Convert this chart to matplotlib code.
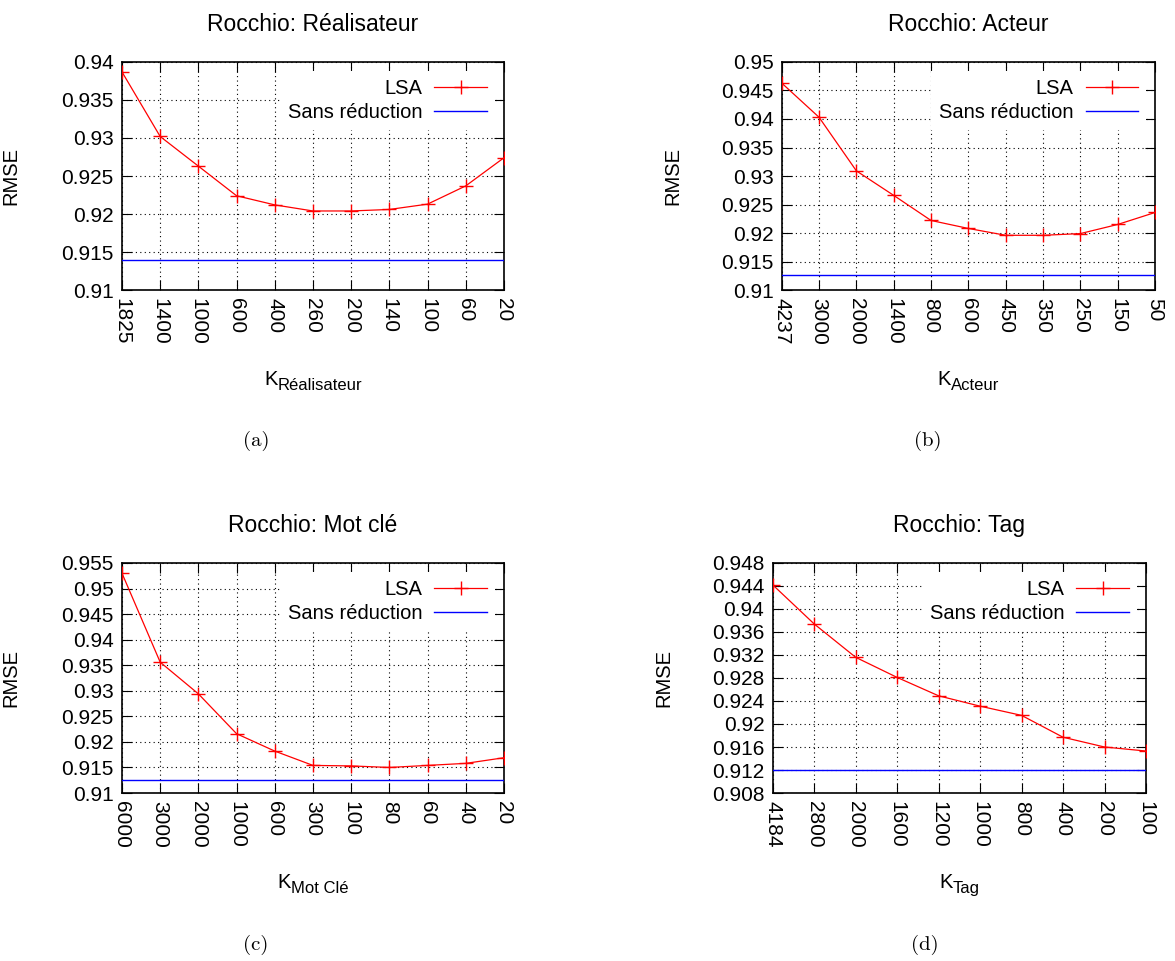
import matplotlib
matplotlib.use("Agg")
import matplotlib.pyplot as plt
import numpy as np
from matplotlib.ticker import FormatStrFormatter
from matplotlib.transforms import ScaledTranslation

plt.rcParams['font.family'] = ['Liberation Sans', 'DejaVu Sans']

# Valeurs
k_real = ['1825', '1400', '1000', '600', '400', '260', '200', '140', '100', '60', '20']
rmse_real = [0.9387, 0.9302, 0.9263, 0.9224, 0.9212, 0.9204, 0.9204, 0.9206, 0.9213, 0.9237, 0.9274]
base_real = 0.9140

k_act = ['4237', '3000', '2000', '1400', '800', '600', '450', '350', '250', '150', '50']
rmse_act = [0.9463, 0.9403, 0.9309, 0.9266, 0.9222, 0.9208, 0.9196, 0.9196, 0.9199, 0.9215, 0.9236]
base_act = 0.9126

k_mot = ['6000', '3000', '2000', '1000', '600', '300', '100', '80', '60', '40', '20']
rmse_mot = [0.9530, 0.9356, 0.9294, 0.9216, 0.9182, 0.9154, 0.9153, 0.9150, 0.9154, 0.9158, 0.9169]
base_mot = 0.9126

k_tag = ['4184', '2800', '2000', '1600', '1200', '1000', '800', '400', '200', '100']
rmse_tag = [0.9442, 0.9374, 0.9316, 0.9281, 0.9249, 0.9231, 0.9215, 0.9177, 0.9160, 0.9153]
base_tag = 0.9120

FS_TICK = 15
FS_LEG = 14.5
FS_TITLE = 16.5

fig = plt.figure(figsize=(11.75, 9.61), dpi=100)

panels = [
    # rect, titre, indice du K, ks, rmse, base, (ymin, ymax, pas), legende, position legende
    ([0.1038, 0.6982, 0.3251, 0.2373], 'Rocchio: Réalisateur', 'Réalisateur',
     k_real, rmse_real, base_real, (0.91, 0.94, 0.005), '(a)', (0.218, 0.541)),
    ([0.6653, 0.6982, 0.3177, 0.2373], 'Rocchio: Acteur', 'Acteur',
     k_act, rmse_act, base_act, (0.91, 0.95, 0.005), '(b)', (0.790, 0.541)),
    ([0.1038, 0.1748, 0.3251, 0.2394], 'Rocchio: Mot clé', 'Mot Clé',
     k_mot, rmse_mot, base_mot, (0.91, 0.955, 0.005), '(c)', (0.218, 0.017)),
    ([0.6576, 0.1748, 0.3177, 0.2394], 'Rocchio: Tag', 'Tag',
     k_tag, rmse_tag, base_tag, (0.908, 0.948, 0.004), '(d)', (0.787, 0.017)),
]

klabels = []
for rect, title, sub, ks, rmse, base, (ymin, ymax, step), cap, cap_pos in panels:
    ax = fig.add_axes(rect)
    x = np.arange(len(ks))
    ax.plot(x, rmse, color='red', lw=0.9, marker='+', ms=10, mew=1.0, label='LSA', zorder=3)
    ax.axhline(base, color='blue', lw=1.0, label='Sans réduction', zorder=3)

    ax.set_xlim(0, len(ks) - 1)
    ax.set_ylim(ymin, ymax)
    ax.set_xticks(x)
    ax.set_xticklabels(ks, rotation=-90, fontsize=FS_TICK)
    ax.set_yticks(np.arange(ymin, ymax + step / 2, step))
    ax.yaxis.set_major_formatter(FormatStrFormatter('%g'))
    ax.tick_params(direction='in', length=7, width=0.8, top=True, right=True,
                   labelsize=FS_TICK, pad=6)
    ax.grid(True, color='black', lw=0.8, ls=(0, (1, 3)))
    ax.set_axisbelow(True)
    for s in ax.spines.values():
        s.set_linewidth(1.2)

    ax.set_title(title, fontsize=FS_TITLE, pad=22)
    ax.set_ylabel('RMSE', fontsize=FS_LEG)
    ax.yaxis.set_label_coords(-0.267, 0.5)

    # K avec indice (gnuplot enhanced text)
    kt = ax.text(0.5, -0.415, 'K', transform=ax.transAxes, fontsize=FS_LEG,
                 ha='left', va='baseline')
    st = ax.text(0.5, -0.415, sub, transform=ax.transAxes, fontsize=12,
                 ha='left', va='baseline')
    klabels.append((ax, kt, st))

    leg = ax.legend(loc='upper right', fontsize=FS_LEG, markerfirst=False, frameon=True,
                    handlelength=2.6, handletextpad=0.6, labelspacing=0.25,
                    borderaxespad=0.45, numpoints=1)
    leg.get_frame().set_edgecolor('none')
    leg.get_frame().set_facecolor('white')
    leg.get_frame().set_alpha(1)
    leg.get_frame().set_boxstyle('square', pad=0)
    for t in leg.get_texts():
        t.set_ha('right')

    fig.text(cap_pos[0], cap_pos[1], cap, fontsize=15, family='cmr10',
             ha='center', va='center')

# centrer "K" + indice sous chaque axe
fig.canvas.draw()
r = fig.canvas.get_renderer()
for ax, kt, st in klabels:
    wk = kt.get_window_extent(r).width
    ws = st.get_window_extent(r).width
    total = wk + ws
    kt.set_transform(ax.transAxes + ScaledTranslation(-total / 2 / fig.dpi, 0, fig.dpi_scale_trans))
    st.set_transform(ax.transAxes + ScaledTranslation((-total / 2 + wk) / fig.dpi, -5 / fig.dpi,
                                                      fig.dpi_scale_trans))

fig.savefig('out.png', dpi=100)
